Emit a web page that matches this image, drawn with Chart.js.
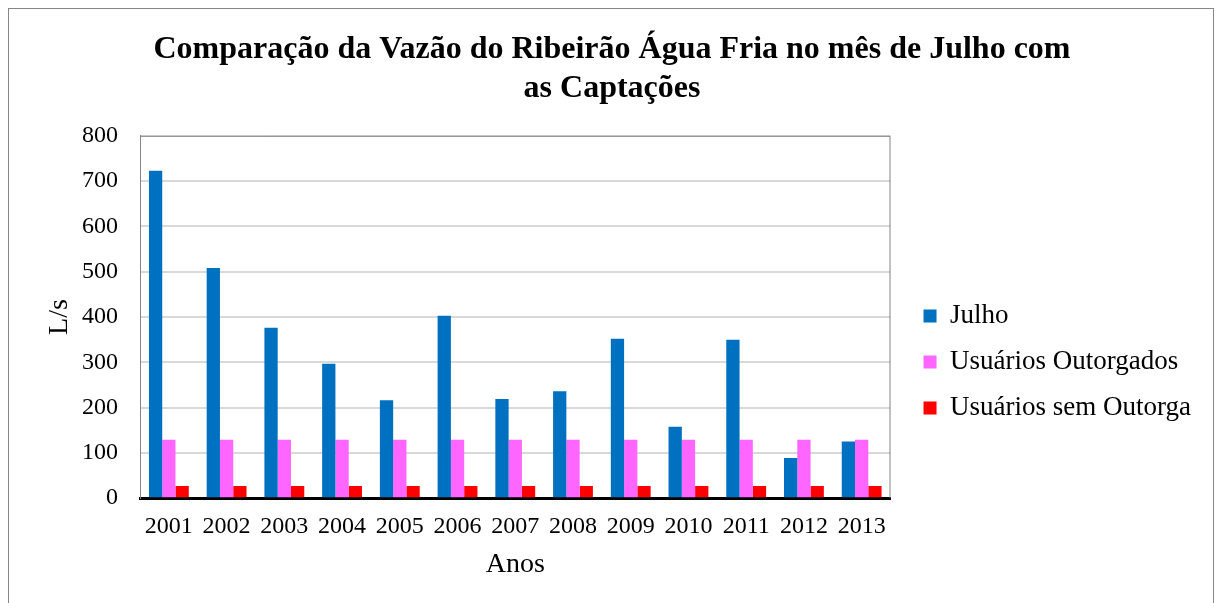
<!DOCTYPE html>
<html>
<head>
<meta charset="utf-8">
<script src="https://cdn.jsdelivr.net/npm/chart.js"></script>
<style>
    body { margin: 0; background: #fff; }
    #moldura { position: absolute; left: 8px; top: 8px; width: 1204px; height: 640px; border: 1px solid #868686; }
    #caixa { position: absolute; left: 0; top: 0; width: 1216px; height: 603px; }
</style>
</head>
<body>
<div id="moldura"></div>
<div id="caixa"><canvas id="chartVazao" width="1216" height="603"></canvas></div>

<script>
    // Dados (L/s)
    const anos = ['2001', '2002', '2003', '2004', '2005', '2006', '2007', '2008', '2009', '2010', '2011', '2012', '2013'];
    const julho = [723, 508, 376, 297, 216, 403, 219, 236, 352, 158, 350, 89, 125];
    const usuariosOutorgados = [129, 129, 129, 129, 129, 129, 129, 129, 129, 129, 129, 129, 129];
    const usuariosSemOutorga = [27, 27, 27, 27, 27, 27, 27, 27, 27, 27, 27, 27, 27];
    const ticksY = [0, 100, 200, 300, 400, 500, 600, 700, 800];

    const fonte = 'Liberation Serif, Times New Roman, serif';

    // borda cinza em cima e à direita da área do gráfico
    const bordaArea = {
        id: 'bordaArea',
        beforeDatasetsDraw(chart) {
            const { ctx, chartArea: a } = chart;
            ctx.save();
            ctx.strokeStyle = '#868686';
            ctx.lineWidth = 1;
            ctx.beginPath();
            ctx.moveTo(a.left, a.top + 0.5);
            ctx.lineTo(a.right - 0.5, a.top + 0.5);
            ctx.lineTo(a.right - 0.5, a.bottom);
            ctx.stroke();
            ctx.restore();
        }
    };

    let ctx = document.getElementById('chartVazao').getContext('2d');
    let grafico = new Chart(ctx, {
        type: 'bar',
        data: {
            labels: anos,
            datasets: [
                { label: 'Julho', data: julho, backgroundColor: '#0070C0' },
                { label: 'Usuários Outorgados', data: usuariosOutorgados, backgroundColor: '#FF66FF' },
                { label: 'Usuários sem Outorga', data: usuariosSemOutorga, backgroundColor: '#FF0000' }
            ]
        },
        options: {
            responsive: false,
            animation: false,
            categoryPercentage: 0.69,
            barPercentage: 1.0,
            layout: { padding: { left: 23, right: 15, top: 31, bottom: 20 } },
            plugins: {
                title: {
                    display: true,
                    text: ['Comparação da Vazão do Ribeirão Água Fria no mês de Julho com', 'as Captações'],
                    color: '#000',
                    font: { family: fonte, size: 32, weight: 'bold', lineHeight: 1.2 },
                    padding: { top: 0, bottom: 28 }
                },
                legend: {
                    position: 'right',
                    maxWidth: 400,
                    title: { display: true, text: '', padding: { top: 98, bottom: 0 }, font: { size: 10 } },
                    labels: {
                        color: '#000',
                        boxWidth: 13,
                        boxHeight: 13,
                        padding: 19,
                        font: { family: fonte, size: 27 }
                    }
                },
                tooltip: { enabled: false }
            },
            scales: {
                x: {
                    grid: { display: false },
                    border: { color: '#000', width: 3 },
                    ticks: { color: '#000', font: { family: fonte, size: 24 }, padding: 6 },
                    title: { display: true, text: 'Anos', color: '#000', font: { family: fonte, size: 28, lineHeight: 1.0 }, padding: { top: 4 } }
                },
                y: {
                    min: 0,
                    max: 800,
                    afterBuildTicks: axis => { axis.ticks = ticksY.map(v => ({ value: v })); },
                    afterFit: axis => { axis.width = 117; },
                    grid: { color: '#d9d9d9', lineWidth: 2, drawTicks: false },
                    border: { color: '#868686', width: 1 },
                    ticks: { color: '#000', font: { family: fonte, size: 24 }, padding: 22 },
                    title: { display: true, text: 'L/s', color: '#000', font: { family: fonte, size: 28, lineHeight: 1.0 }, padding: { top: 23, bottom: 0 } }
                },
                // eixo vazio só para afastar a legenda da área do gráfico
                espaco: {
                    position: 'right',
                    grid: { display: false },
                    border: { display: false },
                    ticks: { display: false },
                    afterFit: axis => { axis.width = 14; }
                }
            }
        },
        plugins: [bordaArea]
    });
</script>
</body>
</html>
